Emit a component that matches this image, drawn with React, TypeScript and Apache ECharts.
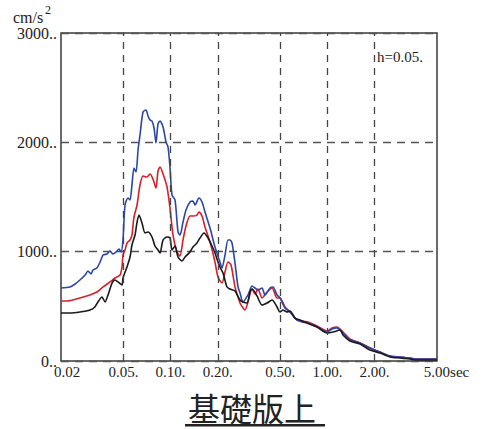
import React, { useEffect, useRef } from "react";
import * as echarts from "echarts";

// Periods (sec) and spectral accelerations (cm/s^2)
const bluePeriods = [0.020, 0.0228, 0.0246, 0.0264, 0.0285, 0.0297, 0.0311, 0.0320, 0.0339, 0.0355, 0.0371, 0.0393, 0.0411, 0.0429, 0.0449, 0.0469, 0.0483, 0.0497, 0.0512, 0.0535, 0.0551, 0.0567, 0.0584, 0.0602, 0.0620, 0.0638, 0.0667, 0.0697, 0.0718, 0.0739, 0.0761, 0.0784, 0.0807, 0.0831, 0.0856, 0.0895, 0.0935, 0.0963, 0.0991, 0.1021, 0.1067, 0.1115, 0.1148, 0.1200, 0.1254, 0.1330, 0.1389, 0.1431, 0.1517, 0.1586, 0.1657, 0.1784, 0.1919, 0.2065, 0.2127, 0.2223, 0.2323, 0.2393, 0.2464, 0.2575, 0.2691, 0.2771, 0.2896, 0.3116, 0.3305, 0.3453, 0.3609, 0.3828, 0.4001, 0.4307, 0.4498, 0.4772, 0.4986, 0.5365, 0.5773, 0.6398, 0.6885, 0.7521, 0.8586, 0.9941, 1.0698, 1.1514, 1.2574, 1.393, 1.614, 1.869, 2.164, 2.508, 2.904, 3.364, 3.727, 5.00];
const blueValues = [668, 677, 704, 741, 787, 823, 796, 832, 851, 905, 969, 979, 1006, 979, 997, 1024, 997, 1107, 1427, 1491, 1473, 1610, 1765, 1728, 1930, 2067, 2277, 2296, 2241, 2204, 2195, 2131, 1994, 2168, 2195, 2140, 2003, 1957, 1774, 1518, 1473, 1180, 1152, 1271, 1381, 1454, 1463, 1427, 1491, 1454, 1363, 1216, 1043, 905, 851, 969, 1107, 1107, 1079, 896, 677, 622, 540, 604, 686, 668, 649, 668, 604, 668, 677, 604, 576, 485, 448, 375, 357, 348, 311, 265, 293, 302, 256, 192, 165, 119, 82, 46, 37, 27, 18, 18];

const redPeriods = [0.020, 0.0218, 0.0264, 0.0306, 0.0339, 0.0371, 0.0411, 0.0442, 0.0476, 0.0490, 0.0497, 0.0512, 0.0527, 0.0551, 0.0567, 0.0584, 0.0611, 0.0638, 0.0667, 0.0707, 0.0739, 0.0772, 0.0807, 0.0831, 0.0856, 0.0895, 0.0949, 0.0991, 0.1036, 0.1099, 0.1148, 0.1200, 0.1254, 0.1330, 0.1389, 0.1473, 0.1517, 0.1586, 0.1657, 0.1784, 0.1919, 0.2006, 0.2127, 0.2223, 0.2323, 0.2428, 0.2575, 0.2771, 0.2896, 0.2982, 0.3116, 0.3305, 0.3453, 0.3609, 0.3828, 0.4121, 0.4435, 0.4772, 0.4986, 0.5365, 0.5773, 0.6398, 0.6885, 0.7521, 0.8586, 0.9941, 1.0698, 1.1514, 1.2574, 1.393, 1.614, 1.869, 2.164, 2.508, 2.904, 3.364, 3.727, 5.00];
const redValues = [549, 549, 576, 604, 631, 677, 723, 759, 787, 860, 969, 1015, 1079, 1107, 1152, 1317, 1427, 1610, 1692, 1683, 1710, 1664, 1582, 1738, 1774, 1710, 1591, 1399, 1152, 997, 960, 1107, 1235, 1326, 1326, 1335, 1363, 1326, 1226, 1088, 905, 768, 713, 814, 905, 878, 677, 530, 485, 466, 540, 658, 613, 658, 576, 631, 668, 576, 576, 494, 448, 375, 366, 357, 320, 274, 302, 311, 265, 201, 165, 119, 82, 46, 37, 27, 18, 18];

const blackPeriods = [0.020, 0.0228, 0.0264, 0.0306, 0.0329, 0.0344, 0.0365, 0.0382, 0.0399, 0.0423, 0.0442, 0.0462, 0.0490, 0.0497, 0.0527, 0.0551, 0.0567, 0.0593, 0.0611, 0.0629, 0.0657, 0.0687, 0.0718, 0.0761, 0.0795, 0.0831, 0.0856, 0.0895, 0.0949, 0.0991, 0.1021, 0.1067, 0.1115, 0.1182, 0.1236, 0.1330, 0.1389, 0.1473, 0.1540, 0.1633, 0.1732, 0.1837, 0.1919, 0.2006, 0.2065, 0.2159, 0.2289, 0.2393, 0.2575, 0.2771, 0.2896, 0.3071, 0.3209, 0.3305, 0.3557, 0.3828, 0.4121, 0.4435, 0.4772, 0.4986, 0.5210, 0.5525, 0.5773, 0.6213, 0.6686, 0.7411, 0.8586, 0.9941, 1.0857, 1.2031, 1.2574, 1.393, 1.614, 1.869, 2.164, 2.508, 2.904, 3.364, 3.727, 5.00];
const blackValues = [439, 439, 448, 466, 494, 540, 585, 540, 604, 713, 741, 723, 695, 759, 860, 951, 1061, 1152, 1271, 1335, 1262, 1171, 1180, 1134, 1052, 1015, 988, 1107, 1134, 1125, 1015, 1052, 951, 914, 951, 997, 1043, 1079, 1125, 1171, 1125, 1052, 988, 905, 860, 805, 677, 658, 640, 558, 540, 530, 631, 658, 595, 512, 530, 558, 494, 448, 466, 448, 457, 393, 375, 348, 311, 256, 265, 284, 238, 183, 156, 101, 73, 37, 27, 18, 9, 9];

const xTickValues = [0.02, 0.05, 0.1, 0.2, 0.5, 1, 2, 5];
const xTickLabels = ["0.02", "0.05.", "0.10.", "0.20.", "0.50.", "1.00.", "2.00.", "5.00sec"];
const yUnit = "cm/s";
const dampingLabel = "h=0.05.";
const titleText = "基礎版上";

const SERIF = "'Liberation Serif', 'DejaVu Serif', Times, serif";

function zip(p: number[], v: number[]) {
  return p.map((t, i) => [t, v[i]]);
}

export default function App() {
  const ref = useRef<HTMLDivElement>(null);
  useEffect(() => {
    if (!ref.current) return;
    const chart = echarts.init(ref.current, null, { renderer: "svg" });
    const last = xTickValues.length - 1;
    const markData = xTickValues.map((t, i) => {
      const isFirst = i === 0;
      const isLast = i === last;
      const edge = isFirst || isLast;
      return {
        xAxis: t,
        lineStyle: edge ? { color: "rgba(0,0,0,0)", width: 0 } : undefined,
        label: {
          formatter: xTickLabels[i],
          color: "#222",
          fontFamily: SERIF,
          fontSize: 15,
          padding: isFirst ? [0, 0, 0, 12] : isLast ? [0, 0, 0, 19] : [0, 0, 0, 0],
        },
      };
    });
    chart.setOption({
      animation: false,
      backgroundColor: "#ffffff",
      textStyle: { fontFamily: SERIF },
      grid: {
        left: 61,
        top: 33,
        right: 47,
        bottom: 68,
        show: true,
        borderColor: "#3a3a3a",
        borderWidth: 1.5,
        containLabel: false,
      },
      xAxis: {
        type: "log",
        logBase: 10,
        min: 0.02,
        max: 5,
        axisLine: { show: false },
        axisTick: { show: false },
        axisLabel: { show: false },
        splitLine: { show: false },
        minorSplitLine: { show: false },
      },
      yAxis: {
        type: "value",
        min: 0,
        max: 3000,
        interval: 1000,
        axisLine: { show: false },
        axisTick: { show: false },
        axisLabel: {
          margin: 4,
          formatter: (v: number) => v + "..",
          fontFamily: SERIF,
          fontSize: 16,
          color: "#222",
          padding: [4, 0, 0, 0],
        },
        splitLine: {
          show: true,
          lineStyle: { color: "#555", width: 1.3, type: [8, 6] },
        },
      },
      graphic: [
        {
          type: "text",
          left: 13,
          top: 9,
          style: { text: yUnit, fontFamily: SERIF, fontSize: 16, fill: "#222" },
        },
        {
          type: "text",
          left: 45,
          top: 4,
          style: { text: "2", fontFamily: SERIF, fontSize: 12, fill: "#222" },
        },
        {
          type: "text",
          left: 377,
          top: 49,
          style: { text: dampingLabel, fontFamily: SERIF, fontSize: 15, fill: "#222" },
        },
        {
          type: "text",
          x: 252,
          y: 407,
          style: {
            text: titleText,
            fontFamily: "'Noto Sans CJK JP', 'Noto Sans CJK SC', sans-serif",
            fontSize: 32,
            fill: "#222",
            align: "center",
            verticalAlign: "middle",
          },
        },
        {
          type: "rect",
          shape: { x: 185, y: 424, width: 140, height: 2.5 },
          style: { fill: "#222" },
        },
      ],
      series: [
        {
          name: "grid",
          type: "line",
          data: [],
          z: 1,
          silent: true,
          markLine: {
            silent: true,
            symbol: ["none", "none"],
            animation: false,
            lineStyle: { color: "#444", width: 1.3, type: [7, 6] },
            label: {
              show: true,
              position: "start",
              distance: 3,
              color: "#222",
              fontFamily: SERIF,
              fontSize: 15,
            },
            data: markData,
          },
        },
        {
          name: "red",
          type: "line",
          data: zip(redPeriods, redValues),
          showSymbol: false,
          smooth: 0.25,
          z: 3,
          lineStyle: { color: "#d4202a", width: 1.6 },
        },
        {
          name: "blue",
          type: "line",
          data: zip(bluePeriods, blueValues),
          showSymbol: false,
          smooth: 0.25,
          z: 3,
          lineStyle: { color: "#2a47a8", width: 1.6 },
        },
        {
          name: "black",
          type: "line",
          data: zip(blackPeriods, blackValues),
          showSymbol: false,
          smooth: 0.25,
          z: 3,
          lineStyle: { color: "#1a1a1a", width: 1.6 },
        },
      ],
    });
    return () => chart.dispose();
  }, []);
  return (
    <div
      ref={ref}
      style={{ position: "absolute", left: 0, top: 0, width: 484, height: 429 }}
    />
  );
}
